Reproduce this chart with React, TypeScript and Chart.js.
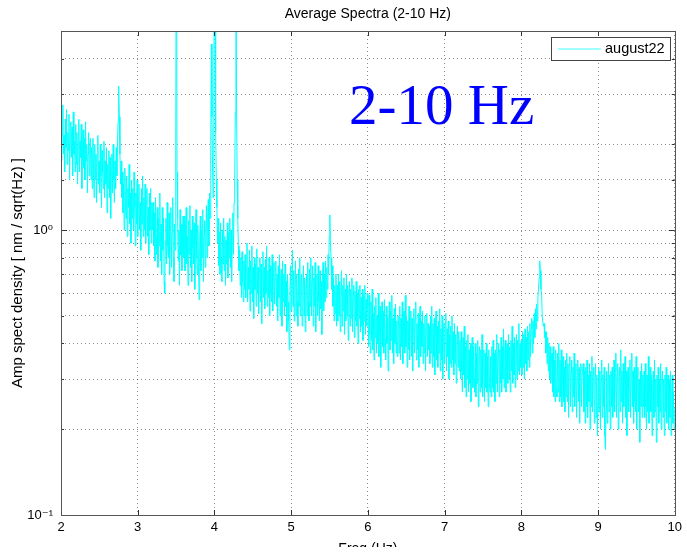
import React, { useEffect, useRef } from 'react';
import { Chart, registerables } from 'chart.js';

Chart.register(...registerables);

// Frequency bins (Hz): start and spacing of the spectrum samples
const FREQ_START = 2;
const FREQ_STEP = 0.008;

// Amplitude spectral density [nm/sqrt(Hz)] in 0.4 Hz chunks (50 bins each)
const asd_2_0 = [2.5, 1.75, 2.25, 2.75, 1.85, 2.15, 1.6, 2.45, 1.95, 2.65, 1.7, 2.2, 1.9, 2.55, 1.5, 2.1, 2.4, 1.8, 2.3, 1.55, 2.6, 1.85, 2.05, 1.6, 2.35,
  1.7, 2.2, 1.45, 1.95, 2.45, 1.6, 2.05, 1.8, 2.35, 1.4, 1.9, 2.25, 1.65, 2.1, 1.5, 2.4, 1.75, 2.0, 1.35, 1.85, 2.2, 1.55, 1.95, 2.1, 1.5];
const asd_2_4 = [1.95, 1.4, 2.1, 1.65, 1.3, 2.0, 1.5, 1.85, 1.25, 1.8, 2.15, 1.45, 1.75, 1.35, 2.0, 1.55, 1.2, 1.9, 1.6, 1.4, 2.05, 1.3, 1.75, 1.45, 1.95,
  1.15, 1.7, 1.4, 1.9, 1.3, 1.8, 1.1, 1.65, 1.85, 1.35, 2.0, 1.5, 1.25, 1.75, 1.4, 1.95, 1.55, 2.0, 2.4, 3.2, 2.5, 1.85, 1.45, 1.75, 1.3];
const asd_2_8 = [1.6, 1.15, 1.45, 1.0, 1.65, 1.25, 1.1, 1.55, 0.95, 1.4, 1.2, 1.7, 1.05, 1.35, 0.9, 1.5, 1.1, 1.4, 1.0, 1.6, 1.2, 0.88, 1.35, 1.05, 1.5,
  0.95, 1.3, 1.45, 1.0, 1.25, 0.85, 1.4, 1.05, 1.55, 0.95, 1.3, 1.0, 1.45, 0.9, 1.25, 1.4, 0.95, 1.2, 0.82, 1.35, 1.0, 1.4, 0.9, 1.25, 1.0];
const asd_3_2 = [1.25, 0.88, 1.15, 0.78, 1.3, 0.95, 0.82, 1.2, 0.74, 1.1, 0.88, 1.35, 0.78, 1.05, 0.7, 1.2, 0.85, 1.1, 0.66, 0.6, 0.92, 1.1, 0.76, 1.25, 0.88,
  0.8, 1.15, 0.7, 1.02, 1.2, 0.74, 0.98, 1.3, 0.8, 0.66, 1.05, 0.85, 2.0, 30, 1.6, 1.1, 0.78, 1.0, 0.64, 1.18, 0.82, 1.05, 0.72, 0.96, 1.12];
const asd_3_6 = [0.8, 1.12, 0.72, 1.0, 1.2, 0.76, 0.95, 0.64, 1.08, 0.82, 1.22, 0.74, 1.0, 0.66, 1.12, 0.86, 0.76, 1.06, 0.62, 0.96, 1.18, 0.8, 0.7, 1.04, 0.74,
  0.57, 0.92, 1.12, 0.72, 1.0, 0.8, 1.18, 0.66, 0.96, 1.08, 0.74, 1.0, 1.22, 0.8, 1.12, 1.28, 0.88, 1.35, 1.1, 2.0, 4.5, 2.5, 1.6, 1.3, 2.0];
const asd_4_0 = [40, 6, 2.2, 1.5, 1.2, 0.9, 1.1, 0.75, 0.98, 0.7, 1.06, 0.8, 0.66, 1.0, 0.76, 1.1, 0.72, 0.95, 0.64, 0.92, 0.76, 1.06, 0.68, 0.98, 0.8,
  1.1, 0.74, 1.0, 0.66, 0.94, 1.15, 0.82, 1.25, 1.5, 2.6, 20, 2.8, 1.5, 1.1, 0.88, 0.72, 0.85, 0.64, 0.8, 0.58, 0.84, 0.66, 0.56, 0.78, 0.62];
const asd_4_4 = [0.82, 0.58, 0.75, 0.9, 0.56, 0.74, 0.62, 0.85, 0.52, 0.78, 0.6, 0.88, 0.56, 0.74, 0.49, 0.8, 0.62, 0.76, 0.54, 0.86, 0.6, 0.74, 0.51, 0.72, 0.8,
  0.56, 0.76, 0.47, 0.7, 0.84, 0.58, 0.74, 0.53, 0.79, 0.6, 0.88, 0.54, 0.72, 0.58, 0.8, 0.5, 0.75, 0.6, 0.56, 0.82, 0.52, 0.72, 0.77, 0.55, 0.7];
const asd_4_8 = [0.78, 0.54, 0.7, 0.48, 0.75, 0.58, 0.82, 0.5, 0.68, 0.73, 0.46, 0.78, 0.56, 0.7, 0.5, 0.76, 0.54, 0.66, 0.44, 0.7, 0.56, 0.48, 0.38, 0.62, 0.75,
  0.52, 0.68, 0.85, 0.54, 0.72, 0.48, 0.66, 0.78, 0.5, 0.7, 0.56, 0.46, 0.73, 0.54, 0.8, 0.5, 0.66, 0.7, 0.46, 0.64, 0.75, 0.5, 0.68, 0.44, 0.62];
const asd_5_2 = [0.7, 0.5, 0.77, 0.56, 0.48, 0.73, 0.54, 0.8, 0.5, 0.66, 0.75, 0.46, 0.68, 0.54, 0.77, 0.44, 0.63, 0.7, 0.5, 0.75, 0.56, 0.48, 0.72, 0.53, 0.66,
  0.43, 0.68, 0.77, 0.52, 0.7, 0.56, 0.78, 0.58, 0.74, 0.62, 0.82, 0.7, 0.95, 1.13, 0.9, 0.8, 0.62, 0.75, 0.54, 0.68, 0.48, 0.64, 0.51, 0.7, 0.46];
const asd_5_6 = [0.64, 0.48, 0.7, 0.5, 0.66, 0.44, 0.62, 0.72, 0.46, 0.64, 0.52, 0.68, 0.43, 0.62, 0.48, 0.7, 0.5, 0.64, 0.41, 0.6, 0.66, 0.46, 0.62, 0.49, 0.68,
  0.44, 0.58, 0.64, 0.42, 0.61, 0.48, 0.66, 0.46, 0.6, 0.4, 0.62, 0.49, 0.64, 0.44, 0.58, 0.46, 0.62, 0.41, 0.59, 0.48, 0.64, 0.43, 0.57, 0.46, 0.6];
const asd_6_0 = [0.54, 0.39, 0.59, 0.43, 0.37, 0.56, 0.41, 0.62, 0.38, 0.51, 0.35, 0.54, 0.42, 0.58, 0.37, 0.5, 0.4, 0.6, 0.36, 0.49, 0.54, 0.33, 0.47, 0.56, 0.39,
  0.52, 0.37, 0.57, 0.42, 0.35, 0.54, 0.4, 0.5, 0.32, 0.48, 0.56, 0.38, 0.52, 0.41, 0.59, 0.37, 0.49, 0.34, 0.53, 0.4, 0.55, 0.37, 0.48, 0.36, 0.5];
const asd_6_4 = [0.48, 0.37, 0.54, 0.35, 0.49, 0.39, 0.56, 0.34, 0.47, 0.52, 0.37, 0.59, 0.39, 0.5, 0.33, 0.48, 0.38, 0.54, 0.35, 0.47, 0.52, 0.36, 0.49, 0.32, 0.46,
  0.53, 0.37, 0.48, 0.56, 0.35, 0.47, 0.38, 0.51, 0.33, 0.46, 0.54, 0.36, 0.48, 0.39, 0.52, 0.34, 0.47, 0.37, 0.5, 0.32, 0.45, 0.51, 0.36, 0.47, 0.38];
const asd_6_8 = [0.46, 0.34, 0.5, 0.37, 0.54, 0.33, 0.47, 0.36, 0.49, 0.31, 0.45, 0.52, 0.35, 0.46, 0.33, 0.48, 0.37, 0.53, 0.32, 0.45, 0.35, 0.5, 0.3, 0.44, 0.47,
  0.34, 0.43, 0.51, 0.32, 0.45, 0.36, 0.48, 0.3, 0.43, 0.34, 0.46, 0.33, 0.5, 0.35, 0.44, 0.31, 0.47, 0.34, 0.43, 0.29, 0.42, 0.46, 0.33, 0.44, 0.32];
const asd_7_2 = [0.41, 0.3, 0.44, 0.32, 0.27, 0.42, 0.31, 0.46, 0.28, 0.39, 0.26, 0.41, 0.3, 0.43, 0.27, 0.38, 0.29, 0.4, 0.25, 0.37, 0.42, 0.28, 0.39, 0.3, 0.27,
  0.4, 0.26, 0.37, 0.29, 0.41, 0.24, 0.36, 0.39, 0.27, 0.38, 0.28, 0.43, 0.26, 0.36, 0.38, 0.25, 0.37, 0.28, 0.4, 0.27, 0.36, 0.24, 0.38, 0.29, 0.27];
const asd_7_6 = [0.36, 0.26, 0.39, 0.28, 0.41, 0.27, 0.37, 0.25, 0.38, 0.29, 0.43, 0.27, 0.37, 0.4, 0.26, 0.38, 0.29, 0.42, 0.27, 0.39, 0.3, 0.45, 0.28, 0.38, 0.41,
  0.27, 0.37, 0.4, 0.29, 0.43, 0.3, 0.39, 0.27, 0.41, 0.32, 0.46, 0.29, 0.4, 0.31, 0.42, 0.28, 0.39, 0.43, 0.3, 0.41, 0.32, 0.47, 0.31, 0.4, 0.33];
const asd_8_0 = [0.41, 0.31, 0.44, 0.33, 0.43, 0.3, 0.45, 0.34, 0.42, 0.32, 0.46, 0.35, 0.44, 0.33, 0.47, 0.36, 0.45, 0.49, 0.37, 0.48, 0.4, 0.51, 0.42, 0.53, 0.45,
  0.55, 0.48, 0.58, 0.62, 0.68, 0.78, 0.72, 0.62, 0.6, 0.5, 0.5, 0.46, 0.47, 0.42, 0.44, 0.37, 0.44, 0.34, 0.42, 0.32, 0.4, 0.3, 0.39, 0.29, 0.36];
const asd_8_4 = [0.37, 0.27, 0.39, 0.26, 0.35, 0.25, 0.38, 0.28, 0.26, 0.37, 0.27, 0.4, 0.25, 0.35, 0.26, 0.38, 0.24, 0.34, 0.36, 0.25, 0.33, 0.23, 0.35, 0.26, 0.37,
  0.25, 0.34, 0.22, 0.33, 0.36, 0.24, 0.32, 0.35, 0.23, 0.33, 0.26, 0.37, 0.24, 0.32, 0.34, 0.22, 0.31, 0.35, 0.25, 0.33, 0.21, 0.32, 0.34, 0.24, 0.31];
const asd_8_8 = [0.31, 0.34, 0.23, 0.32, 0.21, 0.33, 0.24, 0.35, 0.22, 0.31, 0.25, 0.34, 0.2, 0.32, 0.24, 0.36, 0.23, 0.31, 0.33, 0.21, 0.3, 0.34, 0.22, 0.31, 0.19,
  0.24, 0.33, 0.23, 0.32, 0.2, 0.3, 0.35, 0.22, 0.31, 0.24, 0.33, 0.19, 0.17, 0.23, 0.32, 0.21, 0.3, 0.34, 0.23, 0.31, 0.2, 0.32, 0.24, 0.33, 0.22];
const asd_9_2 = [0.25, 0.35, 0.23, 0.32, 0.37, 0.22, 0.31, 0.34, 0.2, 0.3, 0.33, 0.23, 0.38, 0.25, 0.32, 0.21, 0.34, 0.24, 0.31, 0.36, 0.22, 0.32, 0.19, 0.3, 0.33,
  0.23, 0.31, 0.35, 0.22, 0.3, 0.37, 0.24, 0.32, 0.21, 0.33, 0.25, 0.23, 0.36, 0.2, 0.31, 0.33, 0.23, 0.3, 0.18, 0.32, 0.24, 0.34, 0.22, 0.31, 0.24];
const asd_9_6 = [0.32, 0.22, 0.34, 0.24, 0.2, 0.31, 0.23, 0.36, 0.21, 0.3, 0.33, 0.23, 0.31, 0.19, 0.29, 0.32, 0.22, 0.35, 0.23, 0.3, 0.18, 0.31, 0.24, 0.33, 0.21,
  0.3, 0.23, 0.34, 0.2, 0.29, 0.32, 0.22, 0.3, 0.19, 0.31, 0.23, 0.33, 0.21, 0.29, 0.31, 0.2, 0.3, 0.22, 0.32, 0.19, 0.28, 0.31, 0.21, 0.27, 0.2];
const asd_10_0 = [0.24];

const X_TICKS = [2, 3, 4, 5, 6, 7, 8, 9, 10];
const Y_MIN = 0.1;
const Y_MAX = 5;
const SERIES_LABEL = 'august22';
const TITLE = 'Average Spectra (2-10 Hz)';
const X_TITLE = 'Freq (Hz)';
const Y_TITLE = 'Amp spect density [ nm / sqrt(Hz) ]';
const ANNOTATION = '2-10 Hz';

const amplitudes = [
  ...asd_2_0, ...asd_2_4, ...asd_2_8, ...asd_3_2, ...asd_3_6,
  ...asd_4_0, ...asd_4_4, ...asd_4_8, ...asd_5_2, ...asd_5_6,
  ...asd_6_0, ...asd_6_4, ...asd_6_8, ...asd_7_2, ...asd_7_6,
  ...asd_8_0, ...asd_8_4, ...asd_8_8, ...asd_9_2, ...asd_9_6, ...asd_10_0,
];

const CYAN = '#00ffff';
const SANS = '"Liberation Sans", Arial, Helvetica, sans-serif';

const decorPlugin = {
  id: 'matlabDecor',
  afterDraw(chart: any) {
    const { ctx, chartArea } = chart;
    const { left, right, top, bottom } = chartArea;
    const xs = chart.scales.x;
    const ys = chart.scales.y;
    ctx.save();
    // inner tick marks
    ctx.strokeStyle = '#333';
    ctx.lineWidth = 1;
    ctx.setLineDash([]);
    X_TICKS.forEach((v) => {
      const px = Math.round(xs.getPixelForValue(v)) + 0.5;
      ctx.beginPath();
      ctx.moveTo(px, bottom);
      ctx.lineTo(px, bottom - 5);
      ctx.moveTo(px, top);
      ctx.lineTo(px, top + 5);
      ctx.stroke();
    });
    ys.ticks.forEach((t: any) => {
      const major = Math.abs(Math.log10(t.value) - Math.round(Math.log10(t.value))) < 1e-6;
      const len = major ? 6 : 3;
      const py = Math.round(ys.getPixelForValue(t.value)) + 0.5;
      ctx.beginPath();
      ctx.moveTo(left, py);
      ctx.lineTo(left + len, py);
      ctx.moveTo(right, py);
      ctx.lineTo(right - len, py);
      ctx.stroke();
    });
    // frame
    ctx.strokeStyle = '#555';
    ctx.strokeRect(Math.round(left) + 0.5, Math.round(top) + 0.5, Math.round(right - left), Math.round(bottom - top));
    // legend box
    const lx = 551, ly = 37, lw = 119, lh = 23;
    ctx.fillStyle = '#ffffff';
    ctx.fillRect(lx, ly, lw, lh);
    ctx.strokeStyle = '#444';
    ctx.strokeRect(lx + 0.5, ly + 0.5, lw, lh);
    ctx.strokeStyle = '#80ffff';
    ctx.lineWidth = 1.5;
    ctx.beginPath();
    ctx.moveTo(558, 49);
    ctx.lineTo(601, 49);
    ctx.stroke();
    ctx.fillStyle = '#000';
    ctx.font = '14.5px ' + SANS;
    ctx.textBaseline = 'middle';
    ctx.textAlign = 'left';
    ctx.fillText(SERIES_LABEL, 605, 49);
    // big annotation
    ctx.fillStyle = '#0000ff';
    ctx.font = '57px "Liberation Serif", "Times New Roman", serif';
    ctx.textBaseline = 'alphabetic';
    ctx.fillText(ANNOTATION, 349, 124);
    // x axis title (cut off by the bottom edge, as in the reference)
    ctx.beginPath();
    ctx.rect(0, 530, chart.width, 17);
    ctx.clip();
    ctx.fillStyle = '#000';
    ctx.font = '14px ' + SANS;
    ctx.textAlign = 'center';
    ctx.textBaseline = 'alphabetic';
    ctx.fillText(X_TITLE, (left + right) / 2, 553);
    ctx.restore();
  },
};

export default function App() {
  const canvasRef = useRef<HTMLCanvasElement | null>(null);

  useEffect(() => {
    const canvas = canvasRef.current;
    if (!canvas) return;
    const points = amplitudes.map((a, i) => ({ x: FREQ_START + i * FREQ_STEP, y: a }));
    const chart = new Chart(canvas, {
      type: 'line',
      data: {
        datasets: [
          {
            label: SERIES_LABEL,
            data: points,
            borderColor: CYAN,
            backgroundColor: CYAN,
            borderWidth: 1,
            pointRadius: 0,
            tension: 0,
            fill: false,
          },
        ],
      },
      options: {
        animation: false,
        responsive: false,
        devicePixelRatio: 1,
        parsing: false,
        layout: { padding: { left: 0, right: 11, top: 0, bottom: 0 } },
        plugins: {
          legend: { display: false },
          tooltip: { enabled: false },
          title: {
            display: true,
            text: TITLE,
            fullSize: false,
            color: '#000',
            font: { family: SANS, size: 14, weight: 'normal' },
            padding: { top: 5.6, bottom: 8.6 },
          },
        },
        scales: {
          x: {
            type: 'linear',
            min: 2,
            max: 10,
            afterFit: (s: any) => {
              s.height = 38;
            },
            afterBuildTicks: (s: any) => {
              s.ticks = X_TICKS.map((v) => ({ value: v }));
            },
            ticks: {
              color: '#000',
              padding: 5,
              maxRotation: 0,
              autoSkip: false,
              font: { family: SANS, size: 13 },
              callback: (v: any) => String(v),
            },
            grid: { color: 'rgba(0,0,0,0.45)', drawTicks: false, lineWidth: 1 },
            border: { display: false, dash: [1, 3] },
          },
          y: {
            type: 'logarithmic',
            min: Y_MIN,
            max: Y_MAX,
            afterFit: (s: any) => {
              s.width = 61;
            },
            ticks: {
              color: '#000',
              padding: 8,
              autoSkip: false,
              font: { family: '"Liberation Sans", "DejaVu Sans", Arial, sans-serif', size: 13 },
              callback: (v: any) => {
                const n = Number(v);
                if (Math.abs(n - 1) < 1e-9) return '10\u2070';
                if (Math.abs(n - 0.1) < 1e-9) return '10\u207B\u00B9';
                return '';
              },
            },
            grid: { color: 'rgba(0,0,0,0.45)', drawTicks: false, lineWidth: 1 },
            border: { display: false, dash: [1, 3] },
            title: {
              display: true,
              text: Y_TITLE,
              color: '#000',
              font: { family: SANS, size: 15 },
              padding: { top: 9, bottom: 0 },
            },
          },
        },
      },
      plugins: [decorPlugin],
    });
    return () => chart.destroy();
  }, []);

  return (
    <div style={{ position: 'fixed', left: 0, top: 0, width: 687, height: 553, background: '#fff' }}>
      <canvas ref={canvasRef} width={687} height={553} style={{ display: 'block' }} />
    </div>
  );
}
